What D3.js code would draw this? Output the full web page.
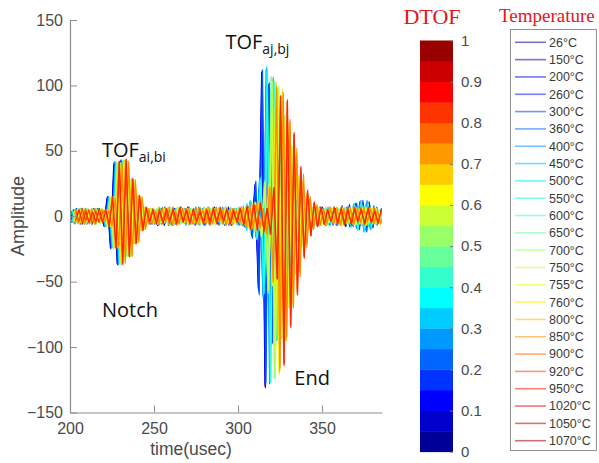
<!DOCTYPE html>
<html>
<head>
<meta charset="utf-8">
<script src="https://cdn.jsdelivr.net/npm/d3@7"></script>
<style>
  html, body { margin: 0; padding: 0; background: #fff; }
  svg { display: block; }
</style>
</head>
<body>
<svg id="chart" width="599" height="463"></svg>
<script>
// Specimen temperatures, one A-scan trace per temperature
const temperaturesC = [26, 150, 200, 260, 300, 360, 400, 450, 500, 550, 600, 650,
  700, 750, 755, 760, 800, 850, 900, 920, 950, 1020, 1050, 1070];

// Sampling of each trace (usec) and per-trace trigger offset (usec)
const sampleStartUs = 200;
const sampleStepUs = 2;
const traceOffsetUs = [0, 0.15, 0.3, 0.45, 0.6, 0.75, 0.9, 1.05, 1.2, 1.35, 1.5, 1.65,
  1.8, 1.95, 2.1, 2.25, 2.4, 2.55, 2.7, 2.85, 3.0, 3.15, 3.3, 3.45];

// Amplitude samples per temperature
const trace26 = [3,-5,6,-2,4,-6,3,-4,5,
  5,-7,14,-24,40,-36,42,-30,28,-20,15,-10,7,
  -5,4,-6,3,-7,5,-3,6,-4,2,-5,7,-3,4,-6,5,-2,6,-5,3,-4,7,-6,3,-5,4,-7,6,-3,5,-8,
  6,-14,24,-55,110,-130,100,-98,75,-70,50,-40,28,-20,12,-9,
  6,-5,7,-4,5,-6,3,-7,5,-4,6,-3,8,-6,4,-7,9,-10,6,-8,11,-7,5,-4];
const trace150 = [-4,5,-3,6,-5,2,-4,6,-3,
  4,-6,13,-22,38,-34,40,-29,26,-19,14,-9,6,
  -4,6,-5,2,-6,4,-7,5,-3,6,-2,4,-5,7,-4,3,-6,5,-3,7,-5,2,-4,6,-7,4,-3,5,-6,7,-4,
  5,-13,22,-52,108,-128,98,-95,72,-68,48,-38,26,-19,11,-8,
  5,-7,4,-6,3,-5,7,-4,6,-5,3,-6,5,-8,7,-5,10,-8,7,-11,9,-6,4,-5];
const trace200 = [2,-4,5,-6,3,-5,4,-3,6,
  5,-8,15,-25,41,-37,43,-31,27,-21,16,-10,6,
  -6,3,-4,5,-7,6,-2,4,-6,3,-5,6,-4,7,-3,5,-5,4,-7,6,-3,4,-6,5,-2,7,-5,3,-6,4,-7,
  7,-15,25,-57,111,-131,101,-97,74,-69,49,-41,27,-21,13,-9,
  7,-4,6,-5,4,-7,5,-3,7,-6,4,-5,6,-7,9,-6,8,-10,12,-8,6,-9,5,-3];
const trace260 = [-3,5,-4,3,-6,4,-2,5,-4,
  3,5,-7,14,-23,39,-35,41,-30,27,-20,15,-10,
  6,-5,3,-6,4,-3,7,-5,4,-6,2,-5,6,-3,4,-7,5,-4,6,-2,5,-6,3,-5,7,-4,6,-3,5,-7,4,
  6,-16,26,-58,109,-129,99,-96,73,-70,51,-40,29,-20,12,-8,
  -6,5,-4,6,-3,7,-5,4,-6,3,-7,5,-4,6,-8,7,-9,11,-7,10,-8,6,-5,4];
const trace300 = [4,-3,6,-5,2,-4,5,-6,3,
  -4,4,-6,13,-22,37,-34,40,-28,26,-18,14,-9,
  5,-4,6,-3,5,-6,4,-7,3,-5,6,-4,2,-6,5,-3,7,-4,5,-6,3,-2,6,-5,4,-7,5,-3,6,-4,5,
  7,-17,27,-60,112,-127,102,-96,72,-67,48,-39,27,-19,11,-8,
  5,-6,4,-5,7,-3,6,-4,5,-7,4,-6,3,-5,7,-8,10,-7,9,-12,8,-6,7,-4];
const trace360 = [-5,3,-4,6,-3,5,-6,2,-4,
  6,-8,15,-24,42,-37,43,-31,29,-21,16,-11,7,
  -3,5,-6,4,-2,6,-5,3,-7,4,-5,6,-3,5,-4,7,-6,2,-5,4,-3,6,-7,5,-4,3,-6,5,-2,6,-9,
  8,7,-16,28,-60,112,-128,104,-95,72,-66,48,-38,26,-18,12,-8,
  5,-6,7,-4,6,-5,3,-7,6,-4,5,-3,7,-6,9,-8,11,-9,12,-10,8,-7,5];
const trace400 = [3,-6,4,-3,5,-4,6,-5,3,
  5,-7,14,-23,40,-35,41,-30,27,-20,15,-10,6,
  -5,6,-3,4,-7,5,-4,6,-2,5,-6,3,-4,7,-5,4,-3,6,-5,2,-6,5,-4,7,-3,4,-6,5,-7,3,-8,
  9,8,-17,29,-62,113,-127,105,-94,73,-65,47,-37,25,-18,11,-8,
  6,-5,4,-7,5,-3,6,-5,7,-4,3,-6,5,-7,8,-10,9,-12,10,-8,7,-5,4];
const trace450 = [-2,4,-5,6,-3,4,-6,5,-3,
  4,-7,13,-23,39,-35,42,-29,27,-19,14,-10,6,
  -6,4,-5,3,-6,7,-4,5,-3,6,-5,2,-7,4,-3,6,-5,4,-6,3,-5,7,-4,6,-3,5,-6,4,-5,7,-10,
  11,7,-18,30,-61,114,-126,106,-95,71,-66,46,-37,26,-17,11,-7,
  5,-7,6,-4,5,-6,3,-5,7,-6,4,-5,6,-8,7,-9,12,-10,11,-9,7,-6,5];
const trace500 = [5,-4,3,-6,4,-5,2,-4,6,
  5,-8,14,-24,41,-36,42,-31,28,-20,15,-10,7,
  -4,5,-6,3,-5,6,-4,7,-3,5,-6,4,-2,6,-5,3,-7,5,-4,6,-3,4,-6,5,-5,3,-4,6,-5,8,-11,
  12,8,-18,29,-60,113,-127,103,-94,72,-67,49,-38,27,-18,12,-8,
  6,-4,5,-6,7,-5,4,-6,3,-7,5,-4,7,-6,10,-8,9,-11,8,-10,7,-5,6];
const trace550 = [-4,6,-3,5,-5,3,-6,4,-2,
  4,5,-7,14,-23,40,-36,41,-30,28,-20,14,-10,
  6,-4,5,-3,7,-5,4,-6,3,-4,6,-5,2,-6,4,-3,5,-7,6,-4,3,-5,6,-3,7,-5,4,-6,5,-8,10,
  -12,7,-16,27,-58,110,-126,102,-93,74,-68,50,-40,28,-19,12,-8,
  5,-6,4,-5,6,-3,7,-5,4,-6,5,-7,6,-9,8,-11,10,-12,9,-7,6,-5,4];
const trace600 = [3,-5,6,-4,3,-6,5,-3,4,
  -3,4,-6,13,-22,38,-34,40,-29,26,-19,14,-9,
  5,-6,4,-3,6,-5,3,-7,5,-4,6,-2,5,-6,4,-5,7,-3,4,-6,5,-4,3,-6,6,-5,4,-7,5,-6,9,
  -11,7,-17,28,-59,111,-127,103,-94,73,-67,49,-39,27,-18,12,-8,
  6,-5,7,-4,5,-6,4,-5,6,-3,7,-5,6,-8,9,-10,12,-9,10,-8,6,-5,4];
const trace650 = [-3,4,-6,5,-2,4,-5,6,-4,
  5,-7,14,-24,40,-36,42,-30,28,-20,15,-10,7,
  -5,3,-6,5,-4,6,-3,5,-7,4,-5,6,-4,3,-6,5,-3,7,-5,4,-6,3,-4,6,-5,7,-3,5,-6,4,-7,
  6,-9,6,-15,26,-58,106,-124,98,-92,76,-68,52,-42,30,-22,14,-9,
  6,-5,4,-6,5,-7,3,-5,6,-4,7,-6,5,-4,6,-7,5,-8,6,-5,4,-3];
const trace700 = [4,-5,3,-4,6,-3,5,-6,4,
  4,-8,15,-25,41,-37,43,-31,28,-21,15,-11,7,
  -6,5,-4,6,-3,5,-5,4,-6,7,-4,3,-5,6,-4,5,-7,3,-5,6,-3,4,-6,5,-4,6,-5,3,-7,5,-6,
  7,-10,6,-15,25,-57,105,-123,97,-93,77,-69,53,-43,31,-22,14,-9,
  5,-6,7,-4,5,-5,6,-3,4,-7,5,-6,4,-5,6,-4,7,-5,5,-6,3,-4];
const trace750 = [-5,4,-3,5,-6,4,-3,6,-5,
  5,-7,14,-23,40,-35,41,-30,27,-20,14,-10,6,
  -4,6,-5,3,-6,4,-5,7,-3,5,-6,4,-4,6,-5,3,-6,7,-4,5,-3,6,-5,4,-6,3,-5,7,-4,6,-5,
  8,-12,7,-16,27,-59,107,-124,99,-92,76,-68,52,-42,30,-21,13,-9,
  6,-4,5,-7,6,-5,4,-6,5,-3,6,-5,7,-4,5,-6,4,-5,6,-4,5,-3];
const trace755 = [3,-4,6,-5,4,-3,5,-4,6,
  -4,5,-8,15,-24,41,-36,42,-31,28,-20,15,-10,
  5,-5,3,-6,4,-5,6,-4,3,-7,5,-4,6,-3,5,-6,4,-5,7,-3,6,-4,5,-6,3,-5,6,-4,5,-7,6,
  -9,11,6,-15,26,-57,106,-123,97,-91,77,-69,52,-43,30,-21,14,-9,
  5,-6,4,-5,7,-4,6,-5,3,-6,5,-4,6,-7,5,-4,6,-5,4,-6,5,-4];
const trace760 = [-4,3,-5,6,-3,5,-4,3,-6,
  3,4,-7,13,-22,38,-34,40,-29,26,-19,14,-9,
  6,-4,5,-6,3,-5,7,-4,5,-3,6,-5,4,-6,3,-4,6,-5,5,-7,4,-3,6,-5,4,-6,5,-3,7,-5,4,
  -8,10,6,-14,25,-56,104,-122,98,-93,78,-70,54,-44,31,-23,15,-10,
  6,-5,7,-6,4,-5,6,-4,5,-7,6,-3,5,-6,4,-5,7,-4,6,-5,4,-3];
const trace800 = [5,-3,4,-6,5,-4,3,-5,6,
  5,-8,14,-24,41,-36,43,-31,28,-21,16,-11,7,
  -5,6,-4,5,-3,6,-6,4,-5,7,-3,5,-6,4,-5,3,-6,6,-4,5,-7,4,-5,6,-3,5,-6,4,-5,6,-7,
  8,-10,9,6,-14,24,-52,102,-120,96,-94,70,-66,45,-40,25,-20,12,-9,
  7,-6,5,-7,6,-4,5,-6,7,-5,4,-6,6,-5,7,-4,5,-6,4,-5,3];
const trace850 = [-4,6,-5,3,-4,5,-6,4,-3,
  4,-7,14,-23,40,-36,42,-30,28,-20,15,-10,6,
  -6,5,-3,6,-5,4,-6,5,-4,6,-5,3,-7,6,-4,5,-5,6,-3,4,-6,5,-4,7,-5,3,-6,5,-4,7,-9,
  10,-8,11,6,-15,24,-53,103,-121,97,-95,71,-67,46,-41,26,-20,12,-9,
  6,-7,5,-6,7,-5,4,-7,6,-5,7,-4,6,-6,5,-7,4,-5,6,-4,3];
const trace900 = [4,-6,5,-3,6,-5,4,-4,5,
  5,-7,15,-24,41,-37,43,-30,29,-21,15,-11,7,
  -5,4,-6,7,-4,5,-6,3,-5,6,-4,5,-7,4,-5,6,-3,5,-6,4,-5,7,-6,4,-5,6,-4,5,-6,8,-10,
  9,-11,10,6,-14,23,-51,101,-119,95,-95,72,-68,47,-42,27,-21,13,-9,
  7,-5,6,-7,5,-6,7,-4,5,-6,6,-5,7,-6,4,-5,6,-5,4,-6,5];
const trace920 = [-5,4,-6,3,-4,6,-5,5,-3,
  5,5,-8,14,-24,40,-36,42,-31,28,-20,15,-10,
  6,-5,4,-6,5,-3,7,-5,4,-6,5,-4,6,-5,3,-6,5,-4,7,-5,6,-3,5,-6,4,-7,5,-4,6,-8,9,
  -10,8,-11,6,-14,23,-50,100,-118,95,-94,72,-69,48,-43,28,-21,13,-10,
  8,-6,5,-7,6,-5,7,-6,4,-5,6,-7,5,-4,6,-5,7,-4,5,-6,4];
const trace950 = [3,-5,4,-6,5,-3,6,-4,5,
  -4,4,-7,13,-23,39,-35,41,-30,27,-19,14,-10,
  5,-6,4,-5,6,-4,5,-7,3,-5,6,-5,4,-6,7,-3,5,-6,4,-5,6,-4,5,-7,6,-3,4,-6,5,-7,8,
  -9,10,-8,6,-13,22,-49,98,-116,93,-92,74,-70,52,-46,32,-24,15,-10,
  9,-7,6,-5,7,-6,5,-7,6,-4,5,-6,7,-5,6,-4,5,-6,4,-5,3];
const trace1020 = [-4,5,-3,6,-5,4,-6,3,-4,
  5,-8,15,-24,42,-36,43,-31,28,-21,16,-11,7,
  -6,4,-5,6,-3,5,-6,4,-7,5,-4,6,-5,3,-6,5,-4,6,-5,7,-3,4,-6,5,-5,6,-4,7,-5,6,-8,
  9,-7,10,-9,6,-14,22,-48,92,-113,88,-84,62,-58,36,-30,18,-14,10,-8,7,-6,5,-4,
  6,-7,5,-6,7,-4,6,-5,7,-6,5,-4,6,-5,4,-3];
const trace1050 = [5,-4,6,-3,5,-6,4,-5,3,
  4,-7,14,-23,41,-35,42,-30,28,-20,15,-10,6,
  -5,6,-4,5,-6,3,-5,7,-4,6,-5,4,-6,5,-3,6,-5,4,-7,5,-6,4,-3,6,-5,5,-4,6,-6,7,-9,
  10,-8,11,-10,6,-13,21,-47,91,-112,87,-83,63,-60,37,-31,19,-15,10,-8,7,-6,5,-4,
  7,-6,5,-7,6,-5,7,-4,6,-6,5,-5,4,-6,5,-3];
const trace1070 = [-3,5,-6,4,-5,3,-4,6,-5,
  5,-8,15,-25,42,-37,44,-31,29,-21,16,-11,7,
  -4,5,-6,4,-5,6,-3,5,-6,7,-4,5,-5,6,-4,3,-6,5,-4,6,-5,7,-4,5,-6,4,-5,6,-7,8,-10,
  9,-11,10,-12,6,-14,22,-48,92,-114,89,-85,64,-60,38,-32,20,-15,11,-8,7,-6,5,-4,
  6,-5,7,-6,5,-7,6,-4,5,-6,7,-5,4,-5,6,-4];

const traces = [trace26, trace150, trace200, trace260, trace300, trace360, trace400,
  trace450, trace500, trace550, trace600, trace650, trace700, trace750, trace755,
  trace760, trace800, trace850, trace900, trace920, trace950, trace1020, trace1050, trace1070];

// Axis ticks
const timeTicks = [200, 250, 300, 350];
const amplitudeTicks = [-150, -100, -50, 0, 50, 100, 150];
const dtofTicks = [0, 0.1, 0.2, 0.3, 0.4, 0.5, 0.6, 0.7, 0.8, 0.9, 1];
const dtofLevels = 20;

// Annotations
const notes = [
  { main: "TOF", sub: "ai,bi", t: 219.0, a: 45 },
  { main: "TOF", sub: "aj,bj", t: 292.5, a: 128 },
  { main: "Notch", sub: "", t: 219.0, a: -77 },
  { main: "End", sub: "", t: 333.5, a: -129 }
];

// MATLAB-style jet colour map
function jet(t) {
  const c = v => Math.max(0, Math.min(1, v)) * 255;
  return d3.rgb(c(1.5 - Math.abs(4 * t - 3)), c(1.5 - Math.abs(4 * t - 2)), c(1.5 - Math.abs(4 * t - 1))).formatHex();
}

const svg = d3.select("#chart");
const axisFont = "'Liberation Sans', Arial, Helvetica, sans-serif";
const axisGray = "#8e8e8e";
const textGray = "#4a4a4a";

const x = d3.scaleLinear().domain([200, 385.5]).range([70, 381.7]);
const y = d3.scaleLinear().domain([-150, 150]).range([412.5, 20]);

svg.append("defs").append("clipPath").attr("id", "plotClip")
  .append("rect").attr("x", 70).attr("y", 15).attr("width", 312).attr("height", 398);

// Traces, coolest first so the hotter ones sit on top
const line = d3.line();
const traceColor = i => jet(0.08 + 0.76 * i / (traces.length - 1));
const legendColor = i => jet((i + 0.5) / traces.length);
svg.append("g").attr("clip-path", "url(#plotClip)")
  .selectAll("path").data(traces).join("path")
  .attr("fill", "none")
  .attr("stroke", (d, i) => traceColor(i))
  .attr("stroke-width", 1.05)
  .attr("stroke-linejoin", "round")
  .attr("d", (d, i) => line(d.map((v, j) => [x(sampleStartUs + traceOffsetUs[i] + j * sampleStepUs), y(v)])));

// Axes (ticks point inward)
const yAxis = svg.append("g").attr("transform", "translate(70,0)")
  .call(d3.axisLeft(y).tickValues(amplitudeTicks).tickSize(-7).tickSizeOuter(0).tickPadding(7));
const xAxis = svg.append("g").attr("transform", "translate(0,412.5)")
  .call(d3.axisBottom(x).tickValues(timeTicks).tickSize(-7).tickSizeOuter(0).tickPadding(10));
[xAxis, yAxis].forEach(g => {
  g.select(".domain").attr("stroke", axisGray).attr("stroke-width", 1.2);
  g.selectAll(".tick line").attr("stroke", axisGray);
  g.selectAll(".tick text").attr("fill", textGray).style("font-family", axisFont).style("font-size", "16px");
});

svg.append("text").attr("x", 191).attr("y", 455).attr("text-anchor", "middle")
  .style("font-family", axisFont).style("font-size", "17.5px").attr("fill", textGray)
  .text("time(usec)");
svg.append("text").attr("transform", "translate(24,216) rotate(-90)").attr("text-anchor", "middle")
  .style("font-family", axisFont).style("font-size", "18px").attr("fill", textGray)
  .text("Amplitude");

// Annotations inside the plot
const noteFont = "'Open Sans', 'Noto Sans', sans-serif";
notes.forEach(n => {
  const t = svg.append("text").attr("x", x(n.t)).attr("y", y(n.a))
    .style("font-family", noteFont).style("font-size", "20px").attr("fill", "#111");
  t.append("tspan").text(n.main);
  if (n.sub) t.append("tspan").attr("dy", 5).style("font-size", "14px").text(n.sub);
});

// DTOF colour bar
const cb = { x: 420, w: 33 };
const cbScale = d3.scaleLinear().domain([0, 1]).range([451.7, 40.5]);
const levels = d3.range(dtofLevels);
svg.append("g").selectAll("rect").data(levels).join("rect")
  .attr("x", cb.x).attr("width", cb.w)
  .attr("y", k => cbScale((k + 1) / dtofLevels))
  .attr("height", k => cbScale(k / dtofLevels) - cbScale((k + 1) / dtofLevels) + 0.4)
  .attr("fill", k => jet((k + 0.5) / dtofLevels));
const cbAxis = svg.append("g").attr("transform", `translate(${cb.x + cb.w},0)`)
  .call(d3.axisRight(cbScale).tickValues(dtofTicks).tickFormat(d3.format("~g")).tickSize(-3).tickSizeOuter(0).tickPadding(8));
cbAxis.select(".domain").remove();
cbAxis.selectAll(".tick line").attr("stroke", "#777");
cbAxis.selectAll(".tick text").attr("fill", textGray).style("font-family", axisFont).style("font-size", "15px");

svg.append("text").attr("x", 432).attr("y", 24).attr("text-anchor", "middle")
  .style("font-family", "'Liberation Serif', 'Times New Roman', serif").style("font-size", "22px")
  .attr("fill", "#e3161c").text("DTOF");
svg.append("text").attr("x", 499).attr("y", 22)
  .style("font-family", "'Liberation Serif', 'Times New Roman', serif").style("font-size", "19px")
  .attr("fill", "#e3161c").text("Temperature");

// Temperature legend
const legend = svg.append("g");
legend.append("rect").attr("x", 510.5).attr("y", 29.5).attr("width", 86).attr("height", 421)
  .attr("fill", "#fff").attr("stroke", "#909090");
const rowY = d3.scaleLinear().domain([0, temperaturesC.length - 1]).range([42.3, 440.7]);
const rows = legend.selectAll("g.row").data(temperaturesC).join("g").attr("class", "row")
  .attr("transform", (d, i) => `translate(0,${rowY(i)})`);
rows.append("line").attr("x1", 515).attr("x2", 546)
  .attr("stroke", (d, i) => legendColor(i)).attr("stroke-opacity", 0.55).attr("stroke-width", 1.6);
rows.append("text").attr("x", 549).attr("dy", "0.35em")
  .style("font-family", axisFont).style("font-size", "12.5px").attr("fill", "#3a3a3a")
  .text(d => `${d}°C`);
</script>
</body>
</html>
